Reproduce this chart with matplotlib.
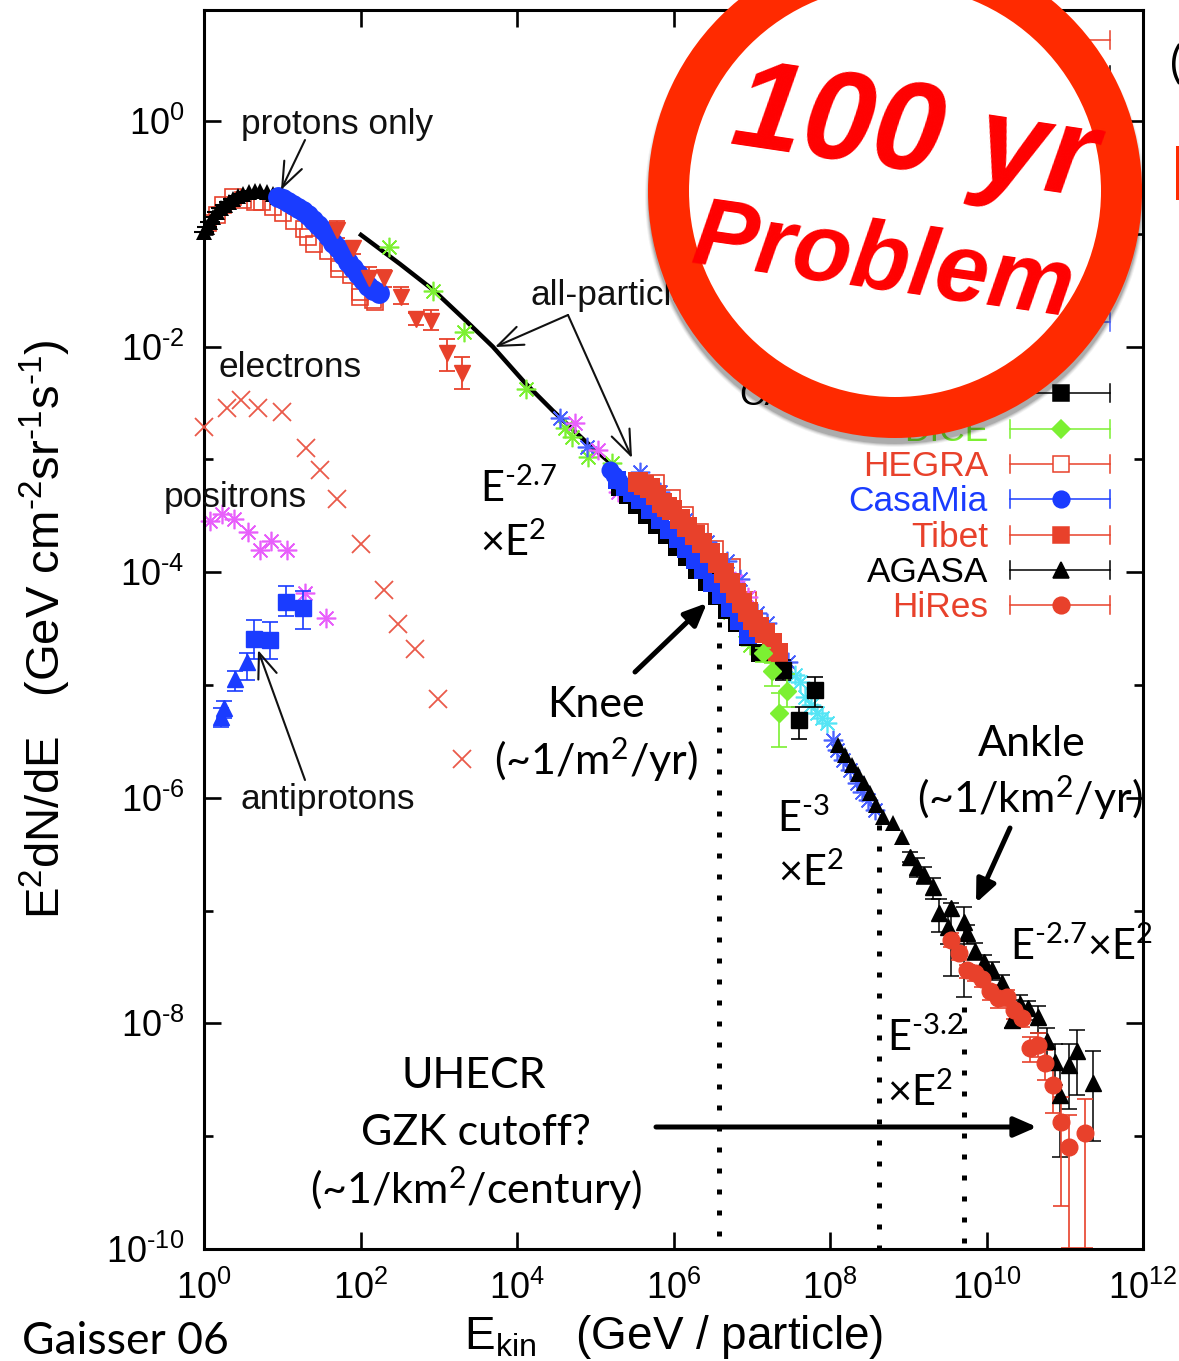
import numpy as np
import matplotlib
import matplotlib.pyplot as plt
from matplotlib.patches import Circle

matplotlib.use("Agg")

plt.rcParams['font.family'] = ['Liberation Sans', 'DejaVu Sans']
plt.rcParams['mathtext.default'] = 'regular'

GILL = ['Lato', 'DejaVu Sans']
HYPHEN = '\u2010'

# colours
RED = '#e8412b'
SALMON = '#ea5a4a'
BLUE = '#1a3cff'
GREEN = '#7cf032'
MAGENTA = '#e860fb'
CYAN = '#55e5f5'
STAR_BLUE = '#4a62ff'

# all values are log10(E) and log10(E^2 dN/dE)
electron_x = [0.0, 0.29, 0.47, 0.69, 1.0, 1.30, 1.48, 1.70, 2.01, 2.30, 2.48, 2.70, 2.99, 3.30]
electron_y = [-2.71, -2.54, -2.47, -2.54, -2.58, -2.90, -3.09, -3.35, -3.75, -4.16, -4.46, -4.68, -5.12, -5.66]

positron_x = [0.08, 0.23, 0.38, 0.56, 0.72, 0.86, 1.06, 1.29, 1.56]
positron_y = [-3.55, -3.48, -3.53, -3.64, -3.80, -3.72, -3.80, -4.18, -4.41]

pbar_sq_x = [0.64, 0.84, 1.05, 1.27]
pbar_sq_y = [-4.59, -4.60, -4.26, -4.32]
pbar_sq_hi = [-4.42, -4.44, -4.12, -4.17]
pbar_sq_lo = [-4.77, -4.77, -4.39, -4.50]

pbar_tri_x = [0.22, 0.26, 0.40, 0.55]
pbar_tri_y = [-5.28, -5.20, -4.95, -4.80]
pbar_tri_hi = [-5.20, -5.14, -4.88, -4.72]
pbar_tri_lo = [-5.37, -5.29, -5.05, -4.96]

low_tri_x = [0.0, 0.04, 0.08, 0.115, 0.17, 0.22, 0.27, 0.32, 0.37, 0.435, 0.50, 0.575, 0.65, 0.72, 0.805, 0.88, 0.945]
low_tri_y = [-0.984, -0.94, -0.895, -0.85, -0.807, -0.77, -0.745, -0.72, -0.69, -0.665, -0.647, -0.63, -0.62, -0.62, -0.63, -0.647, -0.674]

proton_circ_x = [0.946, 1.01, 1.07, 1.14, 1.20, 1.27, 1.33, 1.39, 1.46, 1.52, 1.58, 1.65, 1.71, 1.78, 1.84, 1.90, 1.97, 2.03, 2.10, 2.16, 2.24]
proton_circ_y = [-0.674, -0.69, -0.72, -0.745, -0.77, -0.80, -0.83, -0.88, -0.92, -0.97, -1.02, -1.08, -1.13, -1.19, -1.25, -1.30, -1.36, -1.41, -1.46, -1.50, -1.525]

open_sq_x = [0.05, 0.166, 0.24, 0.37, 0.50, 0.65, 0.74, 0.885, 1.01, 1.15, 1.28, 1.33, 1.41, 1.585, 1.725, 1.725, 1.88, 1.99, 1.99, 2.16, 2.185,
             5.78, 5.98, 6.15, 6.34, 6.53, 6.75, 6.95]
open_sq_y = [-0.904, -0.833, -0.745, -0.674, -0.70, -0.718, -0.718, -0.762, -0.815, -0.886, -0.957, -1.03, -1.09, -1.15, -1.26, -1.31, -1.365, -1.516, -1.56, -1.586, -1.604,
             -3.21, -3.34, -3.49, -3.64, -3.79, -3.95, -4.25]

down_x = [1.70, 1.90, 2.11, 2.30, 2.52, 2.71, 2.90, 3.105, 3.30]
down_y = [-0.966, -1.126, -1.39, -1.39, -1.56, -1.755, -1.77, -2.057, -2.234]
down_hi = [-0.886, -1.073, -1.294, -1.32, -1.47, -1.70, -1.675, -1.93, -2.09]
down_lo = [-1.037, -1.18, -1.47, -1.47, -1.62, -1.81, -1.85, -2.216, -2.376]

allpart_x = [2.006, 2.505, 2.93, 3.31, 3.69, 4.10, 4.46, 4.87, 5.19]
allpart_y = [-1.01, -1.268, -1.498, -1.746, -2.0, -2.32, -2.57, -2.837, -3.03]

green_star_x = [2.36, 2.93, 3.32, 4.115, 4.61, 4.70, 4.91, 5.21, 5.44, 6.72, 6.91, 6.98]
green_star_y = [-1.117, -1.507, -1.87, -2.376, -2.72, -2.80, -2.98, -3.03, -3.31, -4.35, -4.51, -4.645]

blue_star_x = [4.55, 4.895, 5.57, 5.83, 6.15, 6.43, 6.68, 6.85, 7.07, 7.195, 7.46,
               8.04, 8.09, 8.17, 8.26, 8.345, 8.41, 8.485, 8.575]
blue_star_y = [-2.63, -2.89, -3.11, -3.29, -3.54, -3.73, -3.90, -4.06, -4.36, -4.45, -4.80,
               -5.49, -5.576, -5.665, -5.75, -5.87, -5.95, -6.02, -6.11]

mag_star_x = [4.74, 5.035, 5.29, 6.79, 6.95]
mag_star_y = [-2.68, -2.92, -3.29, -4.08, -4.22]

cyan_star_x = [7.55, 7.62, 7.68, 7.76, 7.83, 7.90, 7.96]
cyan_star_y = [-4.91, -4.97, -5.106, -5.177, -5.25, -5.29, -5.337]

black_sq_x = [5.32, 5.42, 5.53, 5.66, 5.79, 5.92, 6.045, 6.17, 6.30, 6.43, 6.555, 6.68, 6.81, 6.95, 7.105]
black_sq_y = [-3.245, -3.315, -3.40, -3.49, -3.58, -3.67, -3.776, -3.865, -3.98, -4.087, -4.21, -4.335, -4.45, -4.574, -4.716]

black_err_x = [7.40, 7.81, 7.60]
black_err_y = [-4.867, -5.044, -5.31]
black_err_hi = [-4.78, -4.93, -5.195]
black_err_lo = [-4.955, -5.195, -5.48]

blue_circ_x = [5.19, 5.24, 5.30]
blue_circ_y = [-3.09, -3.14, -3.19]

blue_sq_x = [5.28, 5.38, 5.47, 5.57, 5.70, 5.83, 5.94, 6.06, 6.16, 6.27, 6.38, 6.49, 6.61, 6.72, 6.84, 6.95]
blue_sq_y = [-3.18, -3.245, -3.30, -3.36, -3.45, -3.54, -3.626, -3.71, -3.79, -3.89, -3.98, -4.096, -4.20, -4.32, -4.43, -4.556]

tibet_x = [5.546, 5.62, 5.70, 5.78, 5.85, 5.92, 5.98, 6.08, 6.17, 6.27, 6.36, 6.47, 6.57, 6.645, 6.72, 6.80, 6.875, 6.95, 7.02, 7.09, 7.17, 7.26, 7.335]
tibet_y = [-3.20, -3.227, -3.253, -3.32, -3.386, -3.42, -3.45, -3.53, -3.60, -3.67, -3.74, -3.83, -3.92, -4.007, -4.096, -4.18, -4.27, -4.35, -4.42, -4.486, -4.54, -4.63, -4.716]

dice_x = [7.14, 7.26, 7.45, 7.35]
dice_y = [-4.716, -4.876, -5.05, -5.25]
dice_hi = [-4.67, -4.805, -4.90, -5.07]
dice_lo = [-4.80, -5.01, -5.195, -5.55]

agasa_dense_x = [8.10, 8.19, 8.28, 8.36, 8.435, 8.51, 8.59, 8.68, 8.805, 8.92]
agasa_dense_y = [-5.53, -5.62, -5.71, -5.79, -5.87, -5.96, -6.06, -6.17, -6.22, -6.35]

agasa_x = [9.02, 9.11, 9.20, 9.315, 9.39, 9.55, 9.51, 9.71, 9.75, 9.85, 9.97, 10.07, 10.20, 10.33, 10.43, 10.53, 10.66, 10.77, 10.875, 10.94, 11.05, 11.16, 11.36]
agasa_y = [-6.525, -6.61, -6.68, -6.79, -7.02, -6.98, -7.145, -7.10, -7.20, -7.36, -7.46, -7.53, -7.64, -7.97, -7.83, -7.86, -7.94, -8.16, -8.34, -8.635, -8.37, -8.245, -8.53]
agasa_hi = [-6.48, -6.53, -6.61, -6.71, -6.90, -6.93, -7.04, -6.97, -7.13, -7.29, -7.39, -7.455, -7.57, -7.79, -7.75, -7.80, -7.845, -8.04, -8.18, -8.41, -8.18, -8.06, -8.245]
agasa_lo = [-6.57, -6.70, -6.76, -6.90, -7.19, -7.58, -7.30, -7.77, -7.30, -7.44, -7.54, -7.615, -7.73, -8.04, -7.925, -7.97, -8.085, -8.34, -8.545, -9.18, -8.76, -8.635, -9.04]

hires_x = [9.55, 9.65, 9.75, 9.85, 9.94, 10.045, 10.15, 10.26, 10.35, 10.45, 10.56, 10.66, 10.75, 10.85, 10.95, 11.05, 11.26]
hires_y = [-7.26, -7.375, -7.53, -7.55, -7.61, -7.71, -7.775, -7.77, -7.88, -7.95, -8.22, -8.19, -8.35, -8.545, -8.87, -9.10, -8.97]
hires_hi = [-7.20, -7.32, -7.48, -7.51, -7.55, -7.66, -7.72, -7.705, -7.81, -7.88, -8.12, -8.085, -8.235, -8.386, -8.65, -8.81, -8.67]
hires_lo = [-7.32, -7.44, -7.60, -7.62, -7.68, -7.79, -7.86, -7.85, -7.96, -8.03, -8.34, -8.30, -8.50, -8.795, -9.62, -9.99, -9.99]

# ticks
x_decades = [0, 2, 4, 6, 8, 10, 12]
y_decades = [0, -2, -4, -6, -8, -10]
y_minor = [-1, -3, -5, -7, -9]

# legend rows, top to bottom: row centre in pixels, name, colour, marker, filled
legend_rows = [
    (40, '', RED, None, True),
    (75, '', 'black', None, True),
    (322, '', STAR_BLUE, None, True),
    (393, 'CASA-BLANCA', 'black', 's', True),
    (429, 'DICE', GREEN, 'D', True),
    (464, 'HEGRA', RED, 's', False),
    (499, 'CasaMia', BLUE, 'o', True),
    (535, 'Tibet', RED, 's', True),
    (570, 'AGASA', 'black', '^', True),
    (605, 'HiRes', RED, 'o', True),
]


def lin(vals):
    return 10.0 ** np.array(vals)


def points(ax, xs, ys, marker, color, ms, **kw):
    ax.plot(lin(xs), lin(ys), ls='none', marker=marker, color=color, ms=ms, clip_on=False, **kw)


def bars(ax, xs, ys, hi, lo, marker, color, ms, ecolor=None, lw=1.2):
    y = lin(ys)
    err = [y - lin(lo), lin(hi) - y]
    ax.errorbar(lin(xs), y, yerr=err, ls='none', marker=marker, color=color, ms=ms, mec=color,
                ecolor=ecolor or color, elinewidth=lw, capsize=6, capthick=lw)


fig = plt.figure(figsize=(11.79, 13.61), dpi=100)
ax = fig.add_axes([204 / 1179, 1 - 1249 / 1361, 939 / 1179, 1239 / 1361])
ax.set_xscale('log')
ax.set_yscale('log')
ax.set_xlim(1, 1e12)
ax.set_ylim(1e-10, 10 ** 0.984)

ax.set_xticks(lin(x_decades))
ax.set_xticklabels([f'$10^{{{d}}}$' for d in x_decades])
ax.set_yticks(lin(y_decades))
ax.set_yticklabels([f'$10^{{{str(d).replace("-", HYPHEN)}}}$' for d in y_decades])
ax.set_xticks(lin(y_minor[:0]), minor=True)
ax.set_yticks(lin(y_minor), minor=True)
ax.tick_params(axis='both', which='major', direction='in', length=12, width=1.9,
               top=True, right=True, labelsize=26)
ax.tick_params(axis='x', which='major', pad=16)
ax.tick_params(axis='y', which='major', pad=14)
ax.tick_params(axis='y', which='minor', direction='in', length=6.5, width=1.9, right=True, labelleft=False)
ax.tick_params(axis='x', which='minor', length=0)
for s in ax.spines.values():
    s.set_linewidth(2.2)

ax.set_xlabel('E$_{kin}$   (GeV / particle)', fontsize=33, labelpad=4)
ax.set_ylabel(f'E$^2$dN/dE   (GeV cm$^{{{HYPHEN}2}}$sr$^{{{HYPHEN}1}}$s$^{{{HYPHEN}1}}$)', fontsize=34, labelpad=24)

# low energy species
points(ax, electron_x, electron_y, 'x', SALMON, 13, mew=1.3, zorder=3)
ax.plot(lin(positron_x), lin(positron_y), ls='none', marker=(8, 2, 0), color=MAGENTA, ms=14, mew=1.2, clip_on=False)
bars(ax, pbar_sq_x, pbar_sq_y, pbar_sq_hi, pbar_sq_lo, 's', BLUE, 12)
bars(ax, pbar_tri_x, pbar_tri_y, pbar_tri_hi, pbar_tri_lo, '^', BLUE, 11.5)

# protons and all-particle
ax.plot(lin(open_sq_x), lin(open_sq_y), ls='none', marker='s', mfc='none', mec=RED, ms=12, mew=1.2)
bars(ax, down_x, down_y, down_hi, down_lo, 'v', RED, 12, lw=1.3)
ax.plot(lin(allpart_x), lin(allpart_y), color='black', lw=3.2)
ax.plot(lin(green_star_x), lin(green_star_y), ls='none', marker=(8, 2, 0), color=GREEN, ms=14, mew=1.2)
ax.plot(lin(blue_star_x), lin(blue_star_y), ls='none', marker=(8, 2, 0), color=STAR_BLUE, ms=14, mew=1.2)
ax.plot(lin(mag_star_x), lin(mag_star_y), ls='none', marker=(8, 2, 0), color=MAGENTA, ms=14, mew=1.2)
points(ax, low_tri_x, low_tri_y, '_', 'black', 14, mew=1.5)
points(ax, low_tri_x, low_tri_y, '^', 'black', 11, mew=0)
points(ax, proton_circ_x, proton_circ_y, 'o', BLUE, 15, mew=0)

# knee region
points(ax, agasa_dense_x, agasa_dense_y, '^', 'black', 12, mew=0)
ax.plot(lin(cyan_star_x), lin(cyan_star_y), ls='none', marker=(8, 2, 0), color=CYAN, ms=14, mew=1.2)
points(ax, black_sq_x, black_sq_y, 's', 'black', 13, mew=0)
bars(ax, black_err_x, black_err_y, black_err_hi, black_err_lo, 's', 'black', 12)
points(ax, blue_circ_x, blue_circ_y, 'o', BLUE, 13, mew=0)
points(ax, blue_sq_x, blue_sq_y, 's', BLUE, 13.5, mew=0)
points(ax, tibet_x, tibet_y, 's', RED, 14, mew=0)
bars(ax, dice_x, dice_y, dice_hi, dice_lo, 'D', GREEN, 9.5)

# highest energies
bars(ax, agasa_x, agasa_y, agasa_hi, agasa_lo, '^', 'black', 11.5, lw=1.1)
bars(ax, hires_x, hires_y, hires_hi, hires_lo, 'o', RED, 12)

# everything else is placed in picture pixels on a full-figure overlay
over = fig.add_axes([0, 0, 1, 1], zorder=5)
over.set_xlim(0, 1179)
over.set_ylim(1361, 0)
over.axis('off')
over.patch.set_alpha(0)

for row_y, name, color, marker, filled in legend_rows:
    over.plot([1010, 1110], [row_y, row_y], color=color, lw=1.1)
    over.plot([1010, 1010], [row_y - 9, row_y + 9], color=color, lw=1.1)
    over.plot([1110, 1110], [row_y - 9, row_y + 9], color=color, lw=1.1)
    if marker:
        over.plot([1061], [row_y], marker=marker, ms=9 if marker == 'D' else 12, mew=1.1,
                  mec=color, mfc=color if filled else 'white')
    if name:
        over.text(988, row_y + 12, name, color=color, fontsize=25.4, ha='right', va='baseline')

for txt, x, y in [('protons only', 241, 134), ('all-particle', 531, 305), ('electrons', 218, 377),
                  ('positrons', 164, 507), ('antiprotons', 241, 809)]:
    over.text(x, y, txt, fontsize=25.4, ha='left', va='baseline', color='#111111')

thin = dict(arrowstyle='->,head_length=0.9,head_width=0.35', lw=1.5, color='#111111', shrinkA=0, shrinkB=0, mutation_scale=20)
for tip, tail in [((281, 190), (305, 140)), ((495, 347), (568, 315)), ((632, 458), (568, 315)), ((258, 650), (305, 780))]:
    over.annotate('', xy=tip, xytext=tail, arrowprops=thin)

heavy = dict(arrowstyle='-|>,head_length=0.8,head_width=0.35', lw=3.6, color='black', shrinkA=0, shrinkB=0, mutation_scale=17)
for tip, tail in [((707, 603), (635, 672)), ((976, 903), (1010, 828)), ((1037, 1127), (656, 1127))]:
    over.annotate('', xy=tip, xytext=tail, arrowprops=heavy)

for x, top in [(718.5, 622), (879, 825), (964, 1007)]:
    over.plot([x, x], [top, 1249], color='black', lw=3.6, ls=(0, (1, 3.2)), dash_capstyle='butt')

gill_text = [
    ('Knee', 596, 717, 'center', 31),
    ('(~1/m$^2$/yr)', 596, 775, 'center', 31),
    ('Ankle', 1032, 756, 'center', 31),
    ('(~1/km$^2$/yr)', 1030, 813, 'center', 31),
    ('UHECR', 474, 1088, 'center', 31),
    ('GZK cutoff?', 476, 1145, 'center', 31),
    ('(~1/km$^2$/century)', 476, 1204, 'center', 31),
    (f'E$^{{{HYPHEN}2.7}}$', 480, 502, 'left', 30),
    ('×E$^2$', 480, 556, 'left', 30),
    (f'E$^{{{HYPHEN}3}}$', 777, 832, 'left', 30),
    ('×E$^2$', 778, 886, 'left', 30),
    (f'E$^{{{HYPHEN}2.7}}$×E$^2$', 1010, 960, 'left', 30),
    (f'E$^{{{HYPHEN}3.2}}$', 887, 1051, 'left', 30),
    ('×E$^2$', 887, 1106, 'left', 30),
    ('Gaisser 06', 22, 1354, 'left', 32),
]
for txt, x, y, ha, size in gill_text:
    over.text(x, y, txt, fontsize=size, family=GILL, ha=ha, va='baseline', color='black')

# slide text cut off at the right edge, as in the picture
over.text(1170, 78, '(', fontsize=32, family=GILL, ha='left', va='baseline', color='black', clip_on=False)
over.text(1169, 200, 'E', fontsize=55, family=GILL, ha='left', va='baseline', color='#ff2a00', clip_on=False)

# the stamp
stamp_xy = (895, 191)
for grow, shade in zip([3, 2, 1, 0], [0.05, 0.07, 0.10, 0.14]):
    over.add_patch(Circle((stamp_xy[0], stamp_xy[1] + 6), 247 + grow, color='black', alpha=shade, lw=0, zorder=40))
over.add_patch(Circle(stamp_xy, 247, facecolor='#ff2a00', edgecolor='none', zorder=41))
over.add_patch(Circle(stamp_xy, 206, facecolor='white', edgecolor='none', zorder=42))
over.text(909, 170, '100 yr', fontsize=91, color='#ff0000', weight='bold', style='italic', rotation=-8.5,
          ha='center', va='baseline', rotation_mode='anchor', zorder=43)
over.text(879, 289, 'Problem', fontsize=69, color='#ff0000', weight='bold', style='italic', rotation=-8.2,
          ha='center', va='baseline', rotation_mode='anchor', zorder=43)

fig.savefig('out.png', dpi=100)
